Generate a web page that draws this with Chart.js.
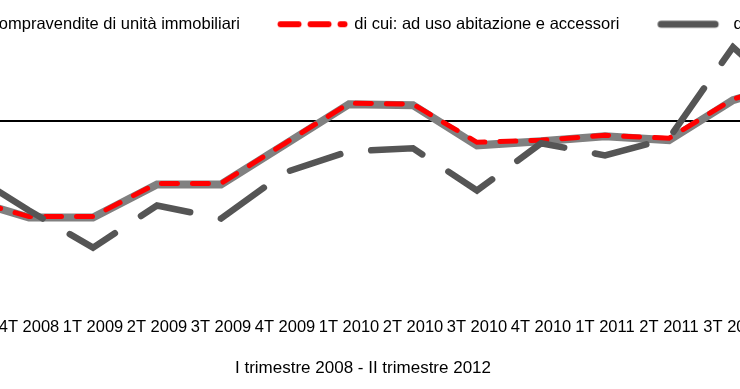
<!DOCTYPE html>
<html>
<head>
<meta charset="utf-8">
<script src="https://cdn.jsdelivr.net/npm/chart.js@4.4.1/dist/chart.umd.min.js"></script>
<style>
  html, body { margin: 0; padding: 0; background: #fff; }
  #wrap { position: relative; width: 740px; height: 389px; overflow: hidden; }
  #grafico { position: absolute; left: -251px; top: 0; }
</style>
</head>
<body>
<div id="wrap"><canvas id="grafico" width="1228" height="389"></canvas></div>
<script>
// trimestri I 2008 - II 2012
const trimestri = ['1T 2008', '2T 2008', '3T 2008', '4T 2008', '1T 2009', '2T 2009', '3T 2009', '4T 2009',
    '1T 2010', '2T 2010', '3T 2010', '4T 2010', '1T 2011', '2T 2011', '3T 2011', '4T 2011', '1T 2012', '2T 2012'];

// valori (fuori dal riquadro visibile: null)
const compravendite = [null, null, -15.4, -19.2, -19.2, -12.6, -12.6, -4.6, 3.4, 3.2, -4.8, -4.0, -3.0, -3.8, 4.2, 8.0, null, null];
const abitazioni = [null, null, -15.4, -19.0, -19.0, -12.4, -12.4, -4.4, 3.6, 3.4, -4.2, -3.8, -2.8, -3.4, 4.4, 8.2, null, null];
const altro = [null, null, -9.8, -17.8, -25.2, -16.8, -19.4, -10.2, -6.0, -5.4, -13.8, -4.4, -6.8, -3.4, 14.8, 3.2, null, null];

const etichette = ['Compravendite di unità immobiliari', 'di cui: ad uso abitazione e accessori', 'di cui: altro'];

// simbolini della legenda (linea tratteggiata come in Excel)
function simbolo(colore, spessore, tratti, da, a) {
    const c = document.createElement('canvas');
    c.width = 74;
    c.height = 10;
    const g = c.getContext('2d');
    g.strokeStyle = colore;
    g.lineWidth = spessore;
    g.lineCap = 'round';
    g.setLineDash(tratti);
    g.beginPath();
    g.moveTo(da, 5);
    g.lineTo(a, 5);
    g.stroke();
    return c;
}

Chart.defaults.font.family = "'Liberation Sans', Arial, sans-serif";
Chart.defaults.font.size = 16.5;
Chart.defaults.color = '#000';

new Chart(document.getElementById('grafico'), {
    type: 'line',
    data: {
        labels: trimestri,
        datasets: [{
            label: etichette[0],
            data: compravendite,
            borderColor: '#808080',
            backgroundColor: '#808080',
            borderWidth: 8,
            borderCapStyle: 'round',
            pointRadius: 0,
            pointStyle: simbolo('#808080', 8, [], 4, 70),
            tension: 0,
            order: 3
        }, {
            label: etichette[1],
            data: abitazioni,
            borderColor: '#ff0000',
            backgroundColor: '#ff0000',
            borderWidth: 5,
            borderDash: [16, 15],
            borderDashOffset: 10,
            borderCapStyle: 'round',
            pointRadius: 0,
            pointStyle: simbolo('#ff0000', 6, [18, 12], 4.5, 68.5),
            tension: 0,
            order: 2
        }, {
            label: etichette[2],
            data: altro,
            borderColor: '#555555',
            backgroundColor: '#555555',
            borderWidth: 6.5,
            borderDash: [53, 31.3],
            borderDashOffset: 45.9,
            borderCapStyle: 'round',
            pointRadius: 0,
            pointStyle: simbolo('#555555', 7, [], 5.75, 59.75),
            tension: 0,
            order: 1
        }]
    },
    options: {
        responsive: false,
        animation: false,
        layout: { padding: { top: -24, left: 20, right: 20, bottom: 0 } },
        plugins: {
            tooltip: { enabled: false },
            legend: {
                labels: {
                    usePointStyle: true,
                    pointStyleWidth: 66,
                    padding: 40,
                    sort: (a, b) => a.datasetIndex - b.datasetIndex
                }
            },
            title: {
                display: true,
                position: 'bottom',
                text: 'I trimestre 2008 - II trimestre 2012',
                font: { size: 17, weight: 'normal' },
                color: '#000',
                padding: { top: 13, bottom: 10 }
            }
        },
        scales: {
            x: {
                offset: true,
                grid: { display: false },
                border: { display: false },
                ticks: { maxRotation: 0, autoSkip: false, padding: 8 }
            },
            y: {
                min: -36.0,
                max: 15.7,
                afterFit: s => { s.width = 36; },
                border: { display: false },
                grid: {
                    drawTicks: false,
                    lineWidth: 2,
                    color: c => (c.tick && c.tick.value === 0) ? '#000' : 'transparent'
                },
                ticks: { stepSize: 10 }
            }
        }
    }
});
</script>
</body>
</html>
